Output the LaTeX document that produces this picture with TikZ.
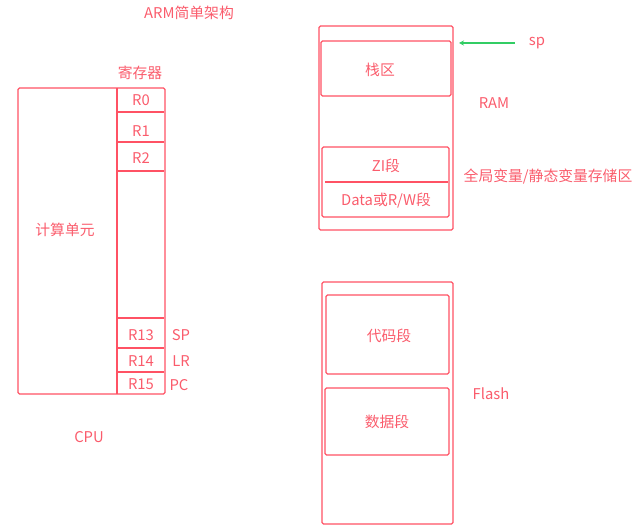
\documentclass[tikz,border=0pt]{standalone}
\usepackage{fontspec}
\setmainfont{Noto Sans CJK SC}
\usetikzlibrary{arrows.meta}
\definecolor{armred}{RGB}{255,82,100}
\definecolor{armtext}{RGB}{250,92,108}
\definecolor{spgreen}{RGB}{50,205,100}

\begin{document}
\begin{tikzpicture}[x=1pt,y=-1pt,
    box/.style={draw=armred,line width=1.4pt,rounded corners=1.5pt},
    seg/.style={draw=armred,line width=1.4pt},
    lbl/.style={text=armtext,font=\fontsize{14.8}{17}\selectfont,inner sep=0pt}]
          \useasboundingbox (0,0) rectangle (637,529);
          \node[lbl] (title) at (189,13) {ARM简单架构};
          \draw[box] (18,88) rectangle (165,394);
          \draw[seg] (117,88) -- (117,394);
          \foreach \y in {112,142,171,318,348,372}
            \draw[seg] (117,\y) -- (164,\y);
          \node[lbl] (regs) at (140,73) {寄存器};
          \node[lbl] (alu) at (65,230) {计算单元};
          \node[lbl] (cpu) at (89,437) {CPU};
          \foreach \name/\y in {R0/100,R1/131,R2/158,R13/335,R14/361,R15/384}
            \node[lbl] (\name) at (141,\y) {\name};
          \node[lbl] (spreg) at (181,335) {SP};
          \node[lbl] (lr) at (181,361) {LR};
          \node[lbl] (pc) at (179,385) {PC};
          \draw[box] (319,26) rectangle (453,230);
          \draw[box] (321,41) rectangle (451,96);
          \node[lbl] (stack) at (380,70) {栈区};
          \draw[box] (322,147) rectangle (449,217);
          \draw[seg] (325,182) -- (448,182);
          \node[lbl] (zi) at (386,166) {ZI段};
          \node[lbl] (rw) at (386,201) {Data或R/W段};
          \node[lbl] (ram) at (494,103) {RAM};
          \node[lbl] (global) at (548,177) {全局变量/静态变量存储区};
          \node[lbl] (sp) at (537,43) {sp};
          \coordinate (spTip) at (459,43);
          \draw[spgreen,line width=1.6pt,-{Stealth[length=5pt,width=5pt]},shorten <=14pt] (sp.west) -- (spTip);
          \draw[box] (322,282) rectangle (453,524);
          \draw[box] (326,295) rectangle (449,374);
          \node[lbl] (code) at (389,336) {代码段};
          \draw[box] (325,388) rectangle (449,455);
          \node[lbl] (data) at (387,422) {数据段};
          \node[lbl] (flash) at (491,394) {Flash};
        \end{tikzpicture}
\end{document}
